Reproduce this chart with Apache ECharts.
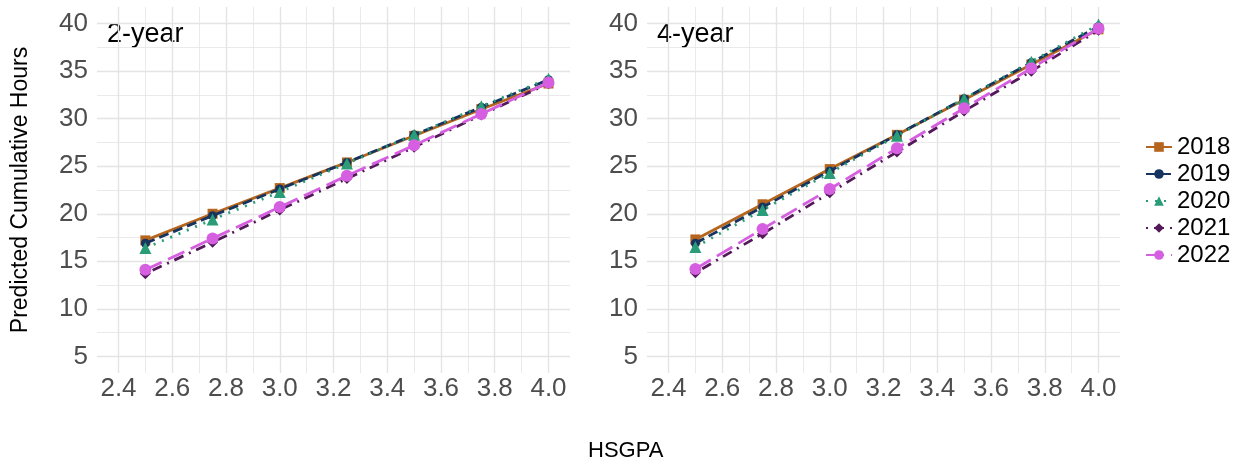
<!DOCTYPE html>
<html>
<head>
<meta charset="utf-8">
<script src="https://cdn.jsdelivr.net/npm/echarts@6/dist/echarts.min.js"></script>
<style>
  html, body { margin: 0; padding: 0; background: #fff; }
  #chart { width: 1247px; height: 466px; }
</style>
</head>
<body>
<div id="chart"></div>
<script>
// HSGPA values on the x axis
var gpa = [2.5, 2.75, 3.0, 3.25, 3.5, 3.75, 4.0];
var years = ['2018', '2019', '2020', '2021', '2022'];

// 2-year panel
var twoYear2018 = [17.2, 20.0, 22.7, 25.4, 28.2, 31.0, 33.7];
var twoYear2019 = [16.9, 19.8, 22.6, 25.4, 28.3, 31.2, 34.1];
var twoYear2020 = [16.4, 19.4, 22.3, 25.3, 28.3, 31.3, 34.2];
var twoYear2021 = [13.7, 17.0, 20.4, 23.7, 27.0, 30.4, 33.7];
var twoYear2022 = [14.1, 17.4, 20.7, 24.0, 27.2, 30.5, 33.8];

// 4-year panel
var fourYear2018 = [17.3, 21.0, 24.7, 28.3, 32.0, 35.7, 39.4];
var fourYear2019 = [16.9, 20.7, 24.5, 28.3, 32.1, 35.9, 39.7];
var fourYear2020 = [16.5, 20.4, 24.3, 28.2, 32.1, 36.0, 39.9];
var fourYear2021 = [13.8, 17.9, 22.2, 26.5, 30.8, 35.0, 39.3];
var fourYear2022 = [14.2, 18.4, 22.6, 26.9, 31.1, 35.3, 39.5];

// tick labels
var xTicks = [2.4, 2.6, 2.8, 3.0, 3.2, 3.4, 3.6, 3.8, 4.0];
var xMinor = [2.5, 2.7, 2.9, 3.1, 3.3, 3.5, 3.7, 3.9];
var yTicks = [5, 10, 15, 20, 25, 30, 35, 40];
var yMinor = [7.5, 12.5, 17.5, 22.5, 27.5, 32.5, 37.5];

var font = 'Liberation Sans, Arial, sans-serif';
var gridColor = '#e4e4e4';

// style per year: colour, marker, dash
var styles = {
    '2018': { color: '#b5651d', symbol: 'rect', size: 10, dash: 'solid' },
    '2019': { color: '#17335f', symbol: 'circle', size: 9, dash: [10, 5] },
    '2020': { color: '#2a9d78', symbol: 'triangle', size: 12, dash: [2, 7] },
    '2021': { color: '#54195a', symbol: 'diamond', size: 11, dash: [2, 6, 10, 6] },
    '2022': { color: '#d55fe0', symbol: 'circle', size: 12, dash: [18, 7] }
};

var panels = [
    { label: '2-year', data: [twoYear2018, twoYear2019, twoYear2020, twoYear2021, twoYear2022] },
    { label: '4-year', data: [fourYear2018, fourYear2019, fourYear2020, fourYear2021, fourYear2022] }
];

var grids = [
    { left: 97, top: 7, width: 473, height: 366 },
    { left: 647, top: 7, width: 473, height: 366 }
];

function xAxes(gi) {
    var major = {
        type: 'value', gridIndex: gi, min: 2.32, max: 4.08,
        axisLine: { show: false },
        axisTick: { show: false, customValues: xTicks },
        axisLabel: {
            customValues: xTicks, color: '#4d4d4d', fontSize: 26, fontFamily: font, margin: 3,
            formatter: function (v) { return v.toFixed(1); }
        },
        splitLine: { show: true, lineStyle: { color: gridColor, width: 1.4 } }
    };
    var minor = {
        type: 'value', gridIndex: gi, min: 2.32, max: 4.08,
        axisLine: { show: false },
        axisTick: { show: false, customValues: xMinor },
        axisLabel: { show: false, customValues: xMinor },
        splitLine: { show: true, lineStyle: { color: gridColor, width: 0.8 } }
    };
    return [major, minor];
}

function yAxes(gi) {
    var major = {
        type: 'value', gridIndex: gi, min: 3.25, max: 41.75,
        axisLine: { show: false },
        axisTick: { show: false, customValues: yTicks },
        axisLabel: { customValues: yTicks, color: '#4d4d4d', fontSize: 26, fontFamily: font, margin: 9 },
        splitLine: { show: true, lineStyle: { color: gridColor, width: 1.4 } }
    };
    if (gi === 0) {
        major.name = 'Predicted Cumulative Hours';
        major.nameLocation = 'middle';
        major.nameRotate = 90;
        major.nameGap = 65;
        major.nameTextStyle = { color: '#000', fontSize: 23, fontFamily: font };
    }
    var minor = {
        type: 'value', gridIndex: gi, min: 3.25, max: 41.75,
        axisLine: { show: false },
        axisTick: { show: false, customValues: yMinor },
        axisLabel: { show: false, customValues: yMinor },
        splitLine: { show: true, lineStyle: { color: gridColor, width: 0.8 } }
    };
    return [major, minor];
}

var series = [];
panels.forEach(function (p, pi) {
    years.forEach(function (yr, yi) {
        var s = styles[yr];
        series.push({
            name: yr,
            type: 'line',
            xAxisIndex: pi * 2,
            yAxisIndex: pi * 2,
            data: gpa.map(function (x, i) { return [x, p.data[yi][i]]; }),
            symbol: s.symbol,
            symbolSize: s.size,
            showAllSymbol: true,
            itemStyle: { color: s.color },
            lineStyle: { color: s.color, width: 2.8, type: s.dash },
            emphasis: { disabled: true },
            animation: false,
            z: 2 + yi
        });
    });
});

var chart = echarts.init(document.getElementById('chart'), null, { renderer: 'canvas' });
chart.setOption({
    backgroundColor: '#fff',
    animation: false,
    grid: grids,
    xAxis: xAxes(0).concat(xAxes(1)),
    yAxis: yAxes(0).concat(yAxes(1)),
    legend: {
        data: years,
        orient: 'vertical',
        left: 1140,
        top: 130,
        itemWidth: 26,
        itemHeight: 12,
        itemGap: 3,
        textStyle: { color: '#000', fontSize: 24, fontFamily: font, lineHeight: 24 }
    },
    graphic: [
        { type: 'text', left: 107, top: 21, style: { text: panels[0].label, fill: '#000', font: '27px Liberation Sans, Arial, sans-serif' } },
        { type: 'text', left: 657, top: 21, style: { text: panels[1].label, fill: '#000', font: '27px Liberation Sans, Arial, sans-serif' } },
        { type: 'text', left: 588, top: 440, style: { text: 'HSGPA', fill: '#000', font: '22px Liberation Sans, Arial, sans-serif' } }
    ],
    series: series
});
</script>
</body>
</html>
